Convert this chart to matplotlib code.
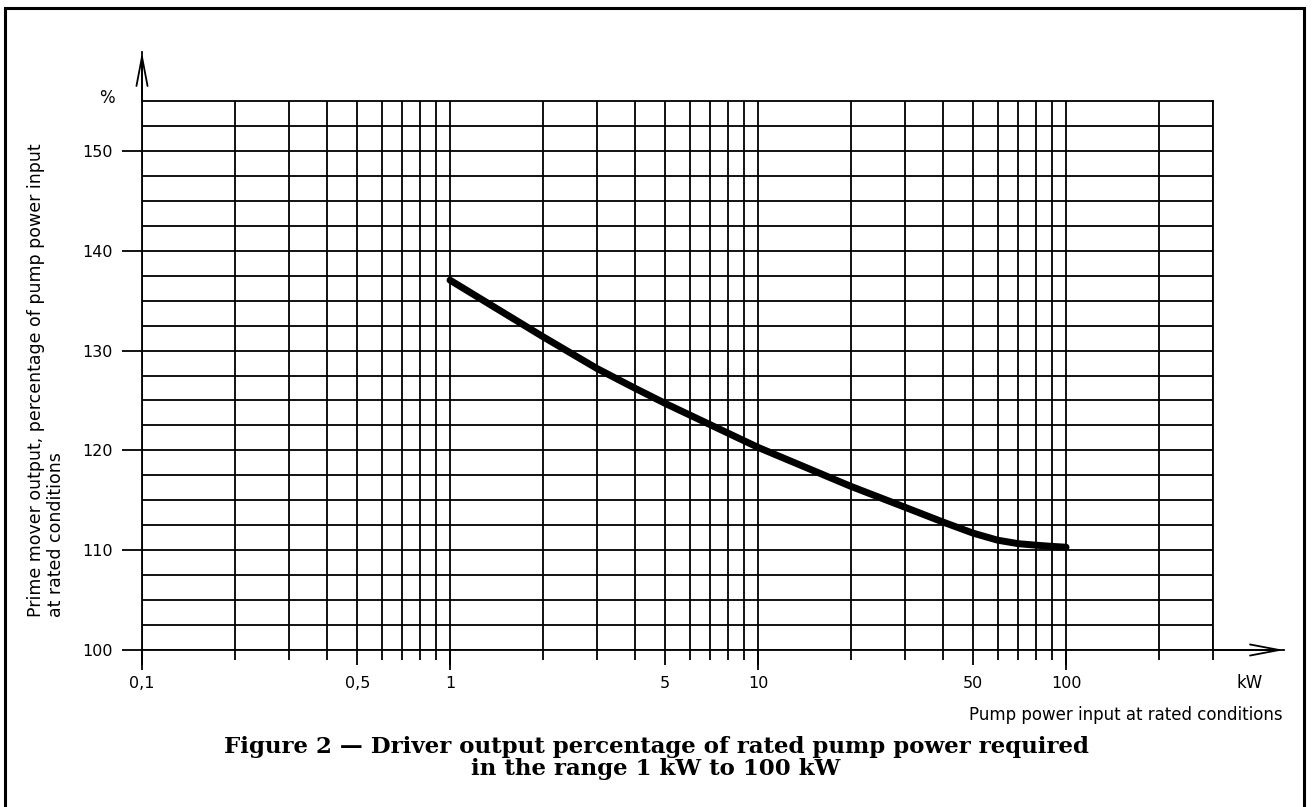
import matplotlib
matplotlib.use("Agg")
import matplotlib.pyplot as plt
from matplotlib.patches import Rectangle

# curve: pump power input (kW) vs driver output (%)
power_kw = [1, 2, 3, 4, 5, 10, 20, 30, 40, 50, 60, 70, 80, 90, 100]
output_pct = [137.05, 131.4, 128.2, 126.2, 124.7, 120.3, 116.4, 114.3, 112.8, 111.7, 111.0, 110.65, 110.5, 110.38, 110.3]

# axis ticks and grid
x_major = [0.1, 0.5, 1, 5, 10, 50, 100]
x_major_labels = ["0,1", "0,5", "1", "5", "10", "50", "100"]
x_minor = [0.2, 0.3, 0.4, 0.6, 0.7, 0.8, 0.9,
           2, 3, 4, 6, 7, 8, 9,
           20, 30, 40, 60, 70, 80, 90,
           200, 300]
decades = [0.1, 1, 10, 100]
y_major = [100, 110, 120, 130, 140, 150]
y_minor = [102.5, 105, 107.5, 112.5, 115, 117.5, 122.5, 125, 127.5, 132.5, 135, 137.5,
           142.5, 145, 147.5, 152.5]

W, H = 1312, 807
fig = plt.figure(figsize=(W / 100, H / 100), dpi=100)
plt.rcParams['font.family'] = ['DejaVu Sans']

# axes box in pixels: x 142..1213, y 101..650
ax = fig.add_axes([142 / W, 1 - 650 / H, (1213 - 142) / W, (650 - 101) / H])
ax.set_xscale('log')
ax.set_xlim(0.1, 300)
ax.set_ylim(100, 155)

lw = 1.3
ax.set_xticks(x_major)
ax.set_xticklabels(x_major_labels)
ax.set_xticks(x_minor, minor=True)
ax.set_xticklabels([], minor=True)
ax.set_yticks(y_major)
ax.set_yticks(y_minor, minor=True)

ax.tick_params(axis='x', which='major', direction='out', length=11, width=lw, pad=7.5, labelsize=11.5)
ax.tick_params(axis='x', which='minor', direction='out', length=7, width=lw)
ax.tick_params(axis='y', which='major', length=0, pad=21, labelsize=11.5)
ax.tick_params(axis='y', which='minor', length=0)
ax.grid(True, which='both', color='black', linewidth=lw)
for s in ax.spines.values():
    s.set_linewidth(lw)

# decade ticks are a little longer, labelled y lines reach out to the numbers
ax.vlines(decades, -0.036, 0, transform=ax.get_xaxis_transform(), colors='black',
          linewidth=lw, clip_on=False)
ax.hlines(y_major, -20 / 1071, 0, transform=ax.get_yaxis_transform(), colors='black',
          linewidth=lw, clip_on=False)

ax.plot(power_kw, output_pct, color='black', linewidth=5, solid_capstyle='round',
        solid_joinstyle='round', zorder=5)

# axis arrows: shafts beyond the grid, then open heads
y_tip = (650 - 52) / 549
x_tip = (1284 - 142) / 1071
ax.plot([0, 0], [1, y_tip], transform=ax.transAxes, color='black', linewidth=lw, clip_on=False)
ax.plot([1, x_tip], [0, 0], transform=ax.transAxes, color='black', linewidth=lw, clip_on=False)
arrow = dict(arrowstyle='->, head_length=1.05, head_width=0.2', color='black',
             linewidth=lw, shrinkA=0, shrinkB=0, mutation_scale=20)
ax.annotate('', xy=(0, y_tip), xytext=(0, 1), xycoords='axes fraction',
            arrowprops=arrow, annotation_clip=False)
ax.annotate('', xy=(x_tip, 0), xytext=(1, 0), xycoords='axes fraction',
            arrowprops=arrow, annotation_clip=False)

ax.text((107 - 142) / 1071, (650 - 98) / 549, "%", transform=ax.transAxes,
        ha='center', va='center', fontsize=12)
ax.text((1250 - 142) / 1071, (650 - 683) / 549, "kW", transform=ax.transAxes,
        ha='center', va='center', fontsize=12)

fig.text(1283 / W, 1 - 715 / H, "Pump power input at rated conditions",
         ha='right', va='center', fontsize=12)
fig.text(46 / W, 1 - 617 / H,
         "Prime mover output, percentage of pump power input\nat rated conditions",
         rotation=90, ha='center', va='bottom', multialignment='left', fontsize=12.5,
         linespacing=1.2)

fig.text(656 / W, 1 - 758 / H,
         "Figure 2 \u2014 Driver output percentage of rated pump power required\n"
         "in the range 1 kW to 100 kW",
         ha='center', va='center', fontsize=16.5, fontweight='bold',
         family=['DejaVu Serif'], linespacing=0.97)

# frame around the figure (open at the bottom)
fig.add_artist(Rectangle((5 / W, -0.02), (1304 - 5) / W, 1.02 - 8 / H,
                         transform=fig.transFigure, fill=False,
                         edgecolor='black', linewidth=2.2))

fig.savefig("out.png", dpi=100)
